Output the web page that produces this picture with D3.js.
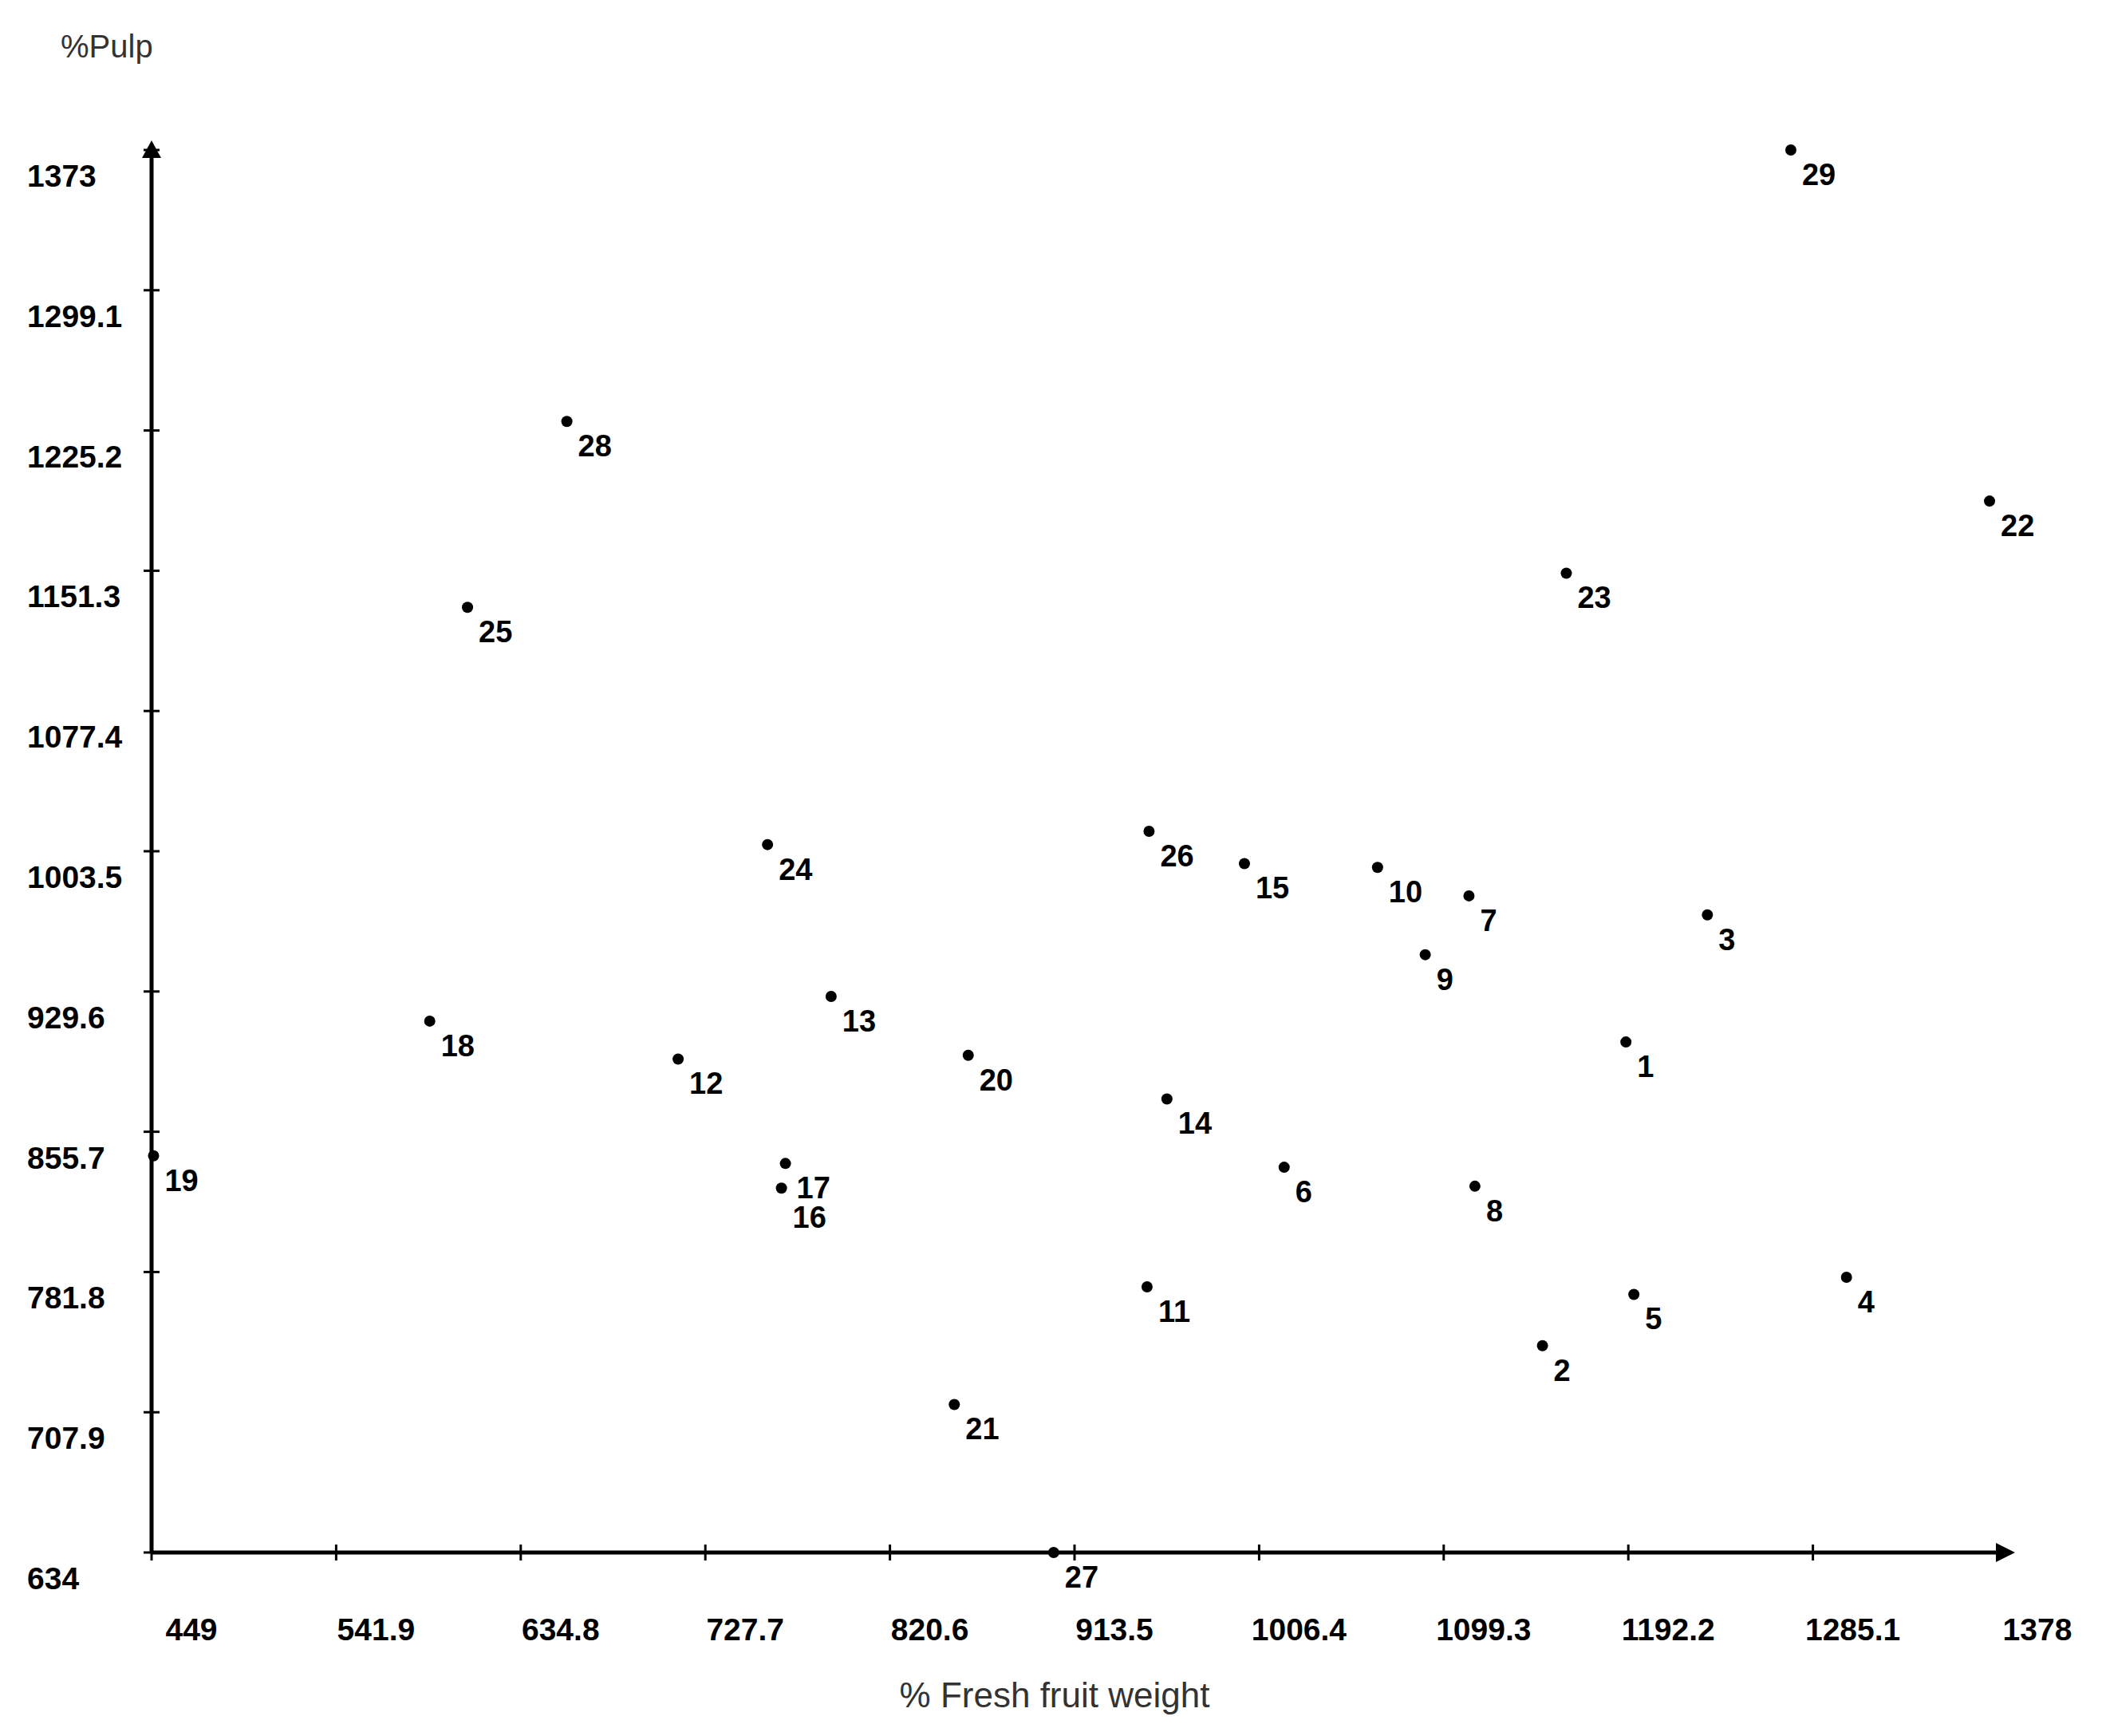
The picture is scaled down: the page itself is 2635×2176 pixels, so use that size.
<!DOCTYPE html>
<html><head><meta charset="utf-8">
<script src="https://cdnjs.cloudflare.com/ajax/libs/d3/7.8.5/d3.min.js"></script>
<style>body{margin:0;background:#fff}svg{display:block}</style>
</head><body>
<script>
'use strict';

/* Data */
var labels = ['1','2','3','4','5','6','7','8','9','10','11','12','13','14','15','16','17','18','19','20','21','22','23','24','25','26','27','28','29'];
var fresh  = [1191,1149,1232,1302,1195,1019,1112,1115,1090,1066,950,714,791,960,999,766,768,589,450,860,853,1374,1161,759,608,951,903,658,1274];
var pulp   = [903,743,970,779,770,837,980,827,949,995,774,894,927,873,997,826,839,914,843,896,712,1188,1150,1007,1132,1014,634,1230,1373];
var xTicks = [449,541.9,634.8,727.7,820.6,913.5,1006.4,1099.3,1192.2,1285.1,1378];
var yTicks = [634,707.9,781.8,855.7,929.6,1003.5,1077.4,1151.3,1225.2,1299.1,1373];

var W = 2635, H = 2176;
var svg = d3.select('body').append('svg').attr('width', W).attr('height', H);

var x = d3.scaleLinear().domain([449, 1378]).range([190, 2504]);
var y = d3.scaleLinear().domain([634, 1373]).range([1946, 188]);

var ax = svg.append('g').attr('stroke', '#000').attr('stroke-width', 5);
ax.append('line').attr('x1', x(449)).attr('x2', x(1378)).attr('y1', y(634)).attr('y2', y(634));
ax.append('line').attr('x1', x(449)).attr('x2', x(449)).attr('y1', y(634)).attr('y2', y(1373));

// arrowheads
svg.append('path').attr('d', 'M' + (x(1378) + 22) + ',' + y(634) + 'l-24,-12v24z');
svg.append('path').attr('d', 'M' + x(449) + ',' + (y(1373) - 12) + 'l-12,22h24z');

// ticks
ax.selectAll('.xt').data(xTicks).enter().append('line')
    .attr('x1', function(d){ return x(d); }).attr('x2', function(d){ return x(d); })
    .attr('y1', y(634) - 10).attr('y2', y(634) + 10).attr('stroke-width', 3);
ax.selectAll('.yt').data(yTicks).enter().append('line')
    .attr('y1', function(d){ return y(d); }).attr('y2', function(d){ return y(d); })
    .attr('x1', x(449) - 10).attr('x2', x(449) + 10).attr('stroke-width', 3);

var font = 'Liberation Sans, Arial, sans-serif';
svg.selectAll('.xl').data(xTicks).enter().append('text')
    .attr('x', function(d){ return x(d) + 50; }).attr('y', 2056)
    .attr('text-anchor', 'middle').attr('font-family', font).attr('font-weight', 'bold')
    .attr('font-size', 39).text(function(d){ return d; });
svg.selectAll('.yl').data(yTicks).enter().append('text')
    .attr('x', 34).attr('y', function(d){ return y(d) + 46; })
    .attr('font-family', font).attr('font-weight', 'bold')
    .attr('font-size', 39).text(function(d){ return d; });

svg.append('text').attr('x', 76).attr('y', 72).attr('font-family', font)
    .attr('font-size', 40).attr('fill', '#333').text('%Pulp');
svg.append('text').attr('x', 1322).attr('y', 2140).attr('text-anchor', 'middle')
    .attr('font-family', font).attr('font-size', 44).attr('fill', '#333').text('% Fresh fruit weight');

// points
var pts = svg.selectAll('.pt').data(labels).enter().append('g');
pts.append('circle')
    .attr('cx', function(d, i){ return x(fresh[i]); })
    .attr('cy', function(d, i){ return y(pulp[i]); })
    .attr('r', 7).attr('fill', '#000');
pts.append('text')
    .attr('x', function(d, i){ return x(fresh[i]) + 14; })
    .attr('y', function(d, i){ return y(pulp[i]) + (d === '16' ? 50 : 44); })
    .attr('font-family', font).attr('font-weight', 'bold').attr('font-size', 38)
    .text(function(d){ return d; });
</script>
</body></html>
